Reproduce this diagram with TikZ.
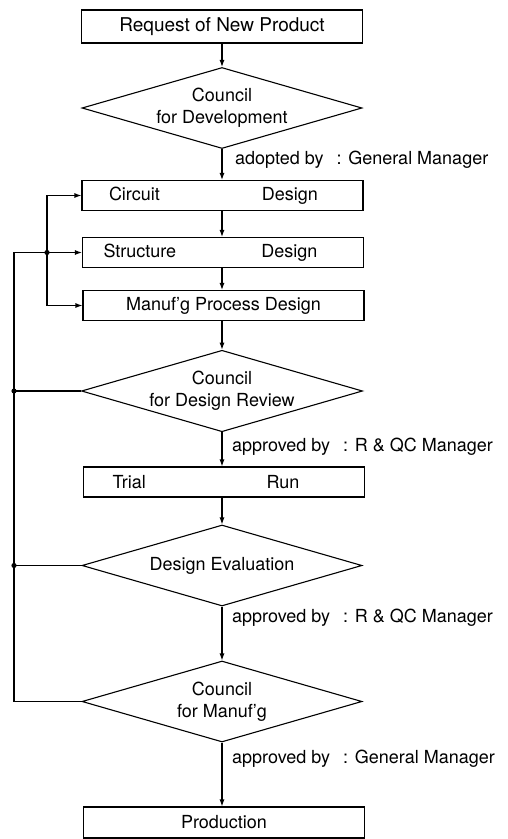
\documentclass[tikz,border=0pt]{standalone}
\usepackage{fontspec}
\setmainfont{TeX Gyre Heros}
\usetikzlibrary{shapes.geometric,arrows.meta}
\tikzstyle{proc} = [rectangle, draw=black, line width=1.1pt, minimum width=281pt, minimum height=30pt, inner sep=0pt]
\tikzstyle{council} = [diamond, aspect=3.45, draw=black, line width=1.1pt, minimum width=280pt, minimum height=81pt, inner sep=0pt, align=center]
\tikzstyle{flow} = [-{Latex[length=7pt,width=5pt]}, line width=1.1pt]
\tikzstyle{link} = [line width=1.1pt]
\tikzstyle{note} = [anchor=west, inner sep=0pt]
\newcommand{\twoword}[4]{\makebox[281pt][s]{\hspace{#1}#2\hfill #3\hspace{#4}}}
\newcommand{\junction}[1]{\fill (#1) circle (2.6pt);}

\begin{document}
\begin{tikzpicture}[x=1pt, y=-1pt, font=\fontsize{18}{22}\selectfont]
				\useasboundingbox (0,0) rectangle (507,839);
				\node [proc, minimum height=33pt] (req) at (222,26.5) {\fontsize{19}{22}\selectfont Request of New Product};
				\node [council] (dev) at (222,108) {Council\\for Development};
				\node [proc] (circ) at (222.5,195.5) {\twoword{27pt}{Circuit}{Design}{45pt}};
				\node [proc] (struct) at (223,252.5) {\twoword{21pt}{Structure}{Design}{46pt}};
				\node [proc] (manuf) at (223.5,305.5) {Manuf'g Process Design};
				\node [council] (review) at (222,391) {Council\\for Design Review};
				\node [proc] (trial) at (224,482) {\twoword{29pt}{Trial}{Run}{65pt}};
				\node [council] (eval) at (222,565.5) {Design Evaluation};
				\node [council] (mfg) at (222,701.5) {Council\\for Manuf'g};
				\node [proc, minimum height=31pt] (prod) at (224,822.5) {Production};

				\node [note] (lblA) at (235,160) {adopted by\hspace{13pt}: General Manager};
				\node [note] (lblB) at (232,447) {approved by\hspace{13pt}: R \& QC Manager};
				\node [note] (lblC) at (232,618) {approved by\hspace{13pt}: R \& QC Manager};
				\node [note] (lblD) at (232,759) {approved by\hspace{13pt}: General Manager};

				\draw [flow] (req.south) -- (dev.north);
				\draw [flow] (dev.south) -- (dev.south |- circ.north);
				\draw [flow] (circ.south -| dev.south) -- (dev.south |- struct.north);
				\draw [flow] (struct.south -| dev.south) -- (dev.south |- manuf.north);
				\draw [flow] (manuf.south -| review.north) -- (review.north);
				\draw [flow] (review.south) -- (review.south |- trial.north);
				\draw [flow] (trial.south -| eval.north) -- (eval.north);
				\draw [flow] (eval.south) -- (mfg.north);
				\draw [flow] (mfg.south) -- (mfg.south |- prod.north);

				\coordinate (jA) at (47,252.5);
				\coordinate (jB) at (14,252.5);
				\draw [flow] (jA) |- (circ.west);
				\draw [flow] (jA) -- (struct.west);
				\draw [flow] (jA) |- (manuf.west);
				\draw [link] (mfg.west) -| (jB) -- (jA);
				\draw [link] (review.west) -- (review.west -| jB);
				\draw [link] (eval.west) -- (eval.west -| jB);
				\junction{jA}
				\junction{review.west -| jB}
				\junction{eval.west -| jB}
	\end{tikzpicture}
\end{document}
